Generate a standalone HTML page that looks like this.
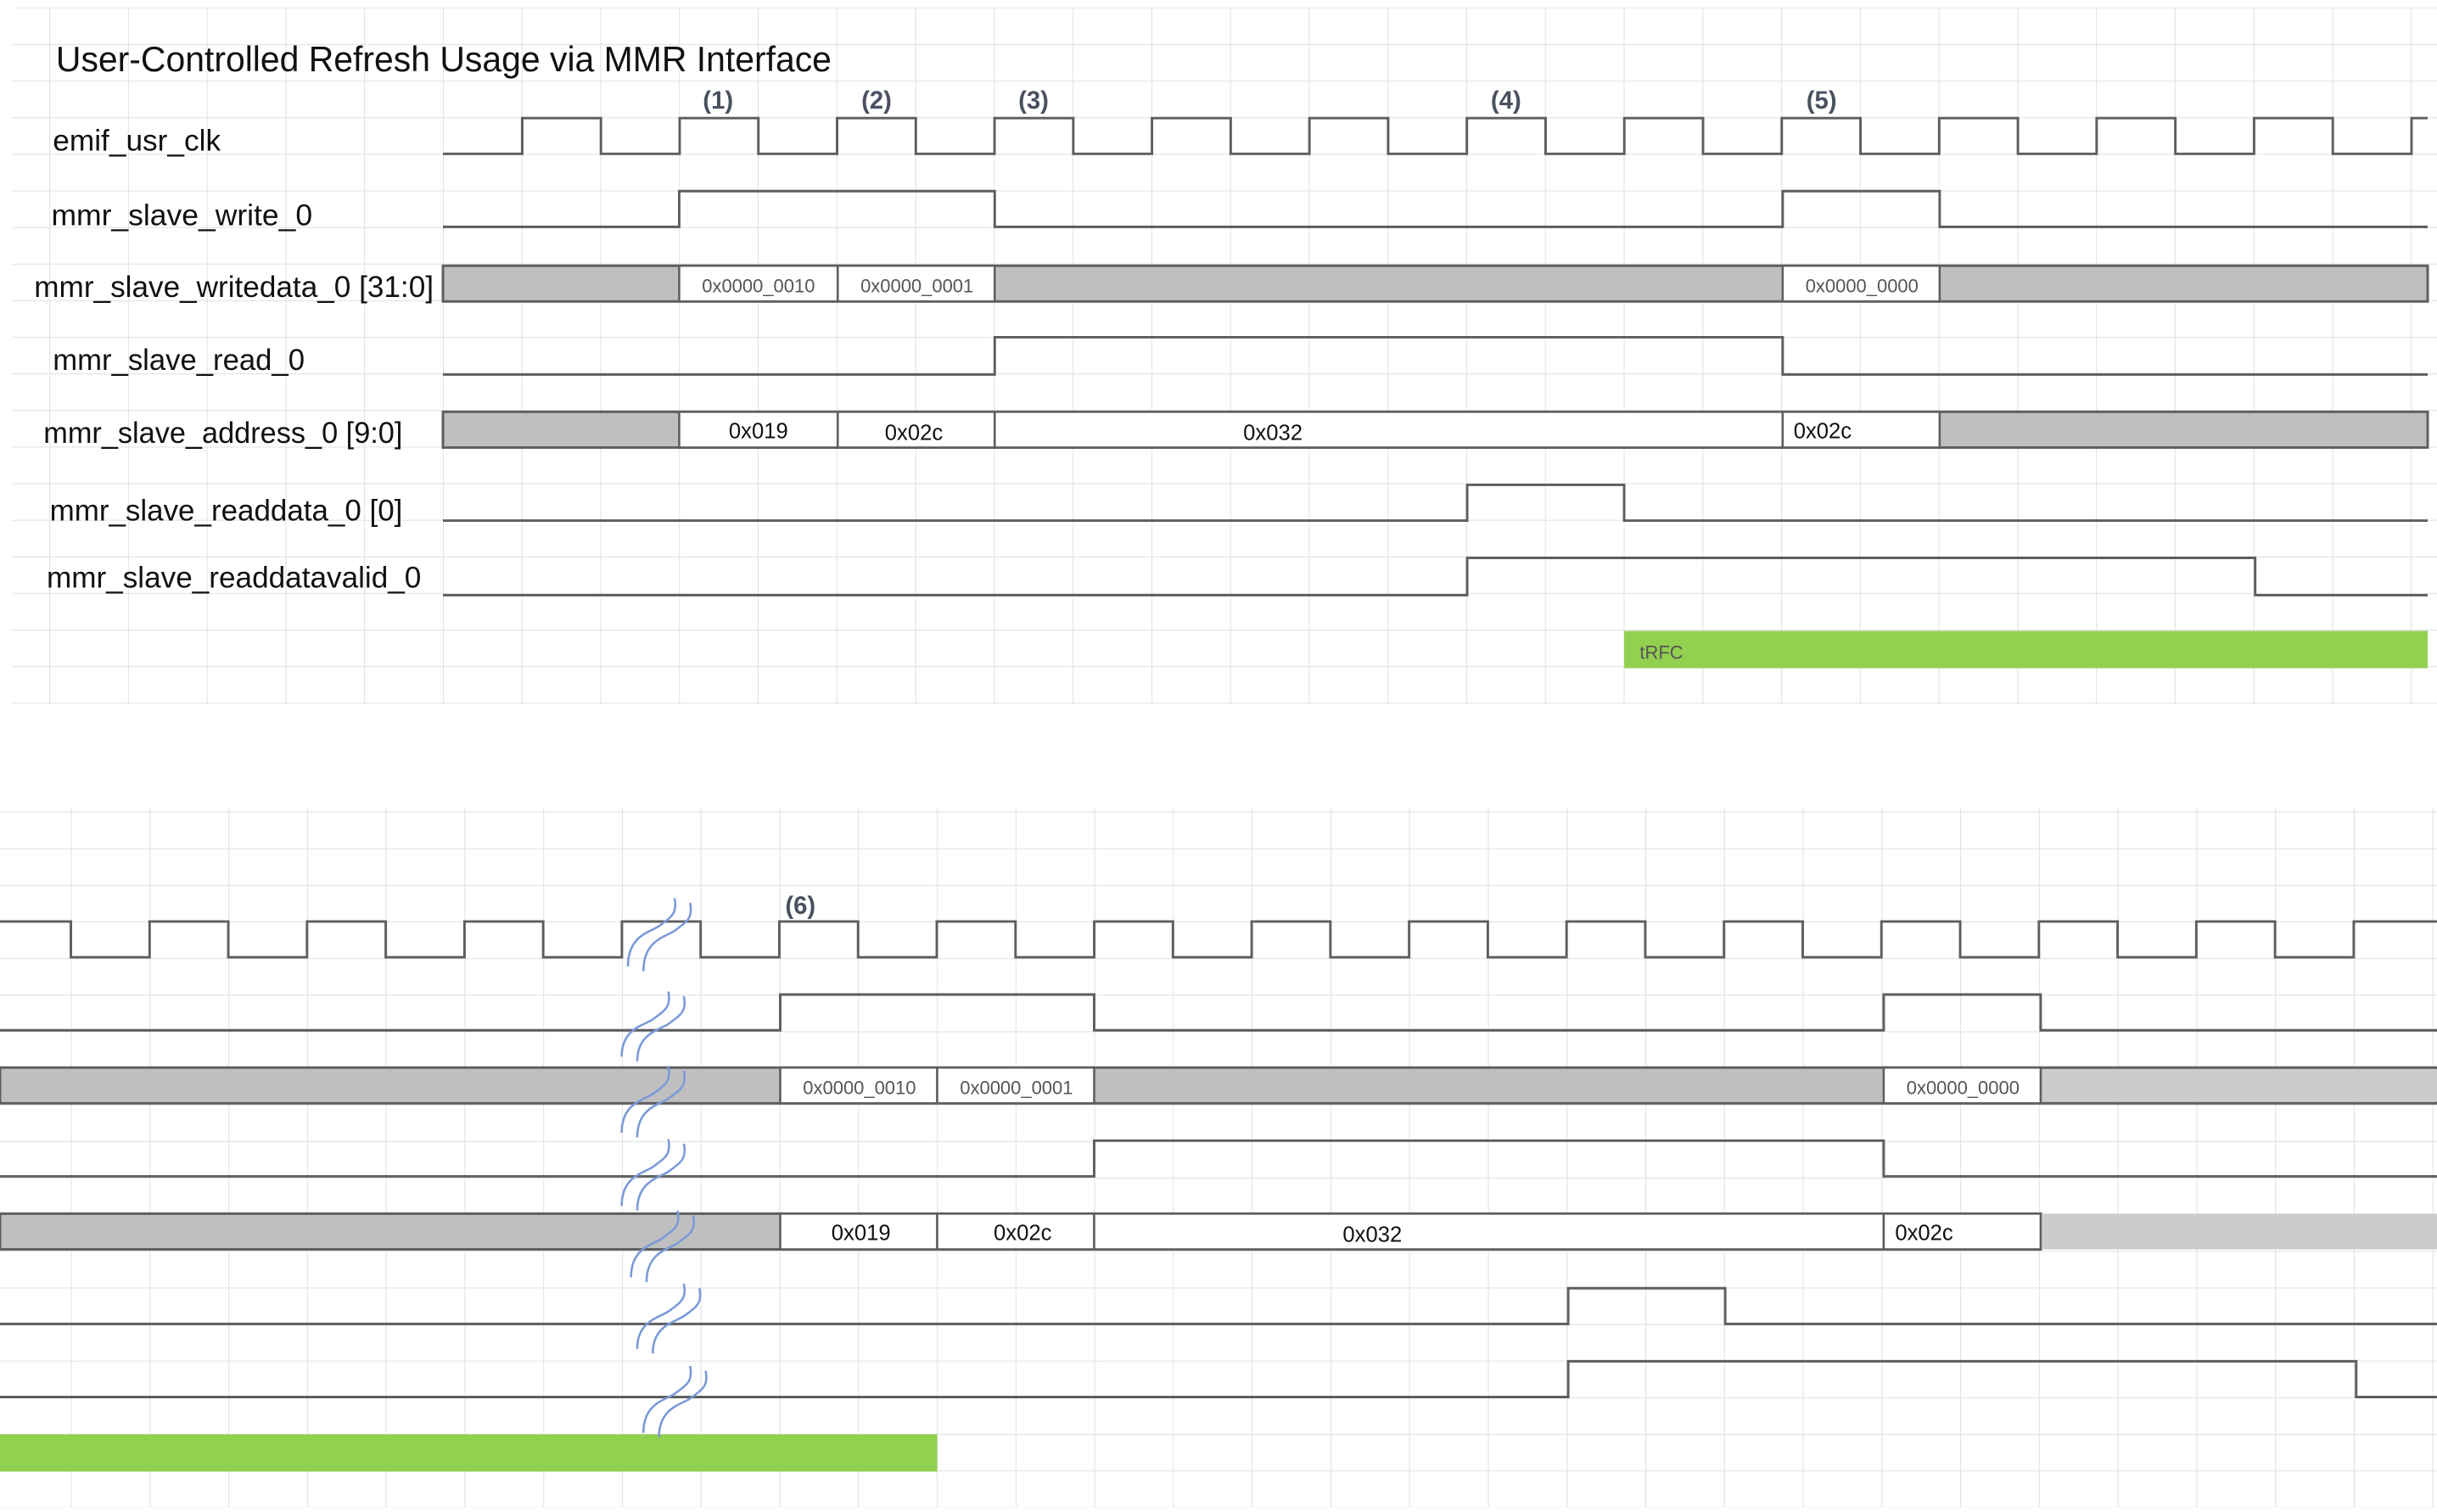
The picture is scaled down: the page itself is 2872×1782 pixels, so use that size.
<!DOCTYPE html>
<html><head><meta charset="utf-8"><style>
html,body{margin:0;padding:0;background:#fff;}
svg{display:block;}
.lbl{font-family:"Liberation Sans",sans-serif;font-size:19px;fill:#111;}
.num{font-family:"Liberation Sans",sans-serif;font-size:16px;fill:#4a5060;font-weight:bold;}
.sig{fill:none;stroke:#5e5e5e;stroke-width:1.6;}
.bus{fill:#bfbfbf;stroke:#5e5e5e;stroke-width:1.6;}
.wh{fill:#fff;stroke:#5e5e5e;stroke-width:1.4;}
.d{font-family:"Liberation Sans",sans-serif;font-size:12px;fill:#555;}
.a{font-family:"Liberation Sans",sans-serif;font-size:14px;fill:#111;}
.sq{fill:none;stroke:#7a9ad8;stroke-width:1.4;}
</style></head><body>
<svg width="2872" height="1782" viewBox="0 0 1568 973" preserveAspectRatio="none" xmlns="http://www.w3.org/2000/svg">
<defs>
<pattern id="g1" x="31.7" y="4.8" width="50.65" height="23.55" patternUnits="userSpaceOnUse">
<path d="M0,0 V23.55 M0,0 H50.65" stroke="#dfe3e7" stroke-width="1.2" fill="none"/></pattern>
<pattern id="g2" x="45.6" y="4.25" width="50.65" height="23.55" patternUnits="userSpaceOnUse">
<path d="M0,0 V23.55 M0,0 H50.65" stroke="#dfe3e7" stroke-width="1.2" fill="none"/></pattern>
</defs>
<rect width="1568" height="973" fill="#fff"/>
<rect x="8" y="5" width="1560" height="448" fill="url(#g1)"/>
<rect x="0" y="520" width="1568" height="450" fill="url(#g2)"/>

<!-- TOP -->
<text x="36" y="46" class="lbl" style="font-size:23px" textLength="499" lengthAdjust="spacingAndGlyphs">User-Controlled Refresh Usage via MMR Interface</text>
<text x="34" y="97" class="lbl" textLength="108" lengthAdjust="spacingAndGlyphs">emif_usr_clk</text>
<text x="33" y="145" class="lbl" textLength="168" lengthAdjust="spacingAndGlyphs">mmr_slave_write_0</text>
<text x="22" y="191" class="lbl" textLength="257" lengthAdjust="spacingAndGlyphs">mmr_slave_writedata_0 [31:0]</text>
<text x="34" y="238" class="lbl" textLength="162" lengthAdjust="spacingAndGlyphs">mmr_slave_read_0</text>
<text x="28" y="285" class="lbl" textLength="231" lengthAdjust="spacingAndGlyphs">mmr_slave_address_0 [9:0]</text>
<text x="32" y="335" class="lbl" textLength="227" lengthAdjust="spacingAndGlyphs">mmr_slave_readdata_0 [0]</text>
<text x="30" y="378" class="lbl" textLength="241" lengthAdjust="spacingAndGlyphs">mmr_slave_readdatavalid_0</text>

<text x="462" y="70" class="num" text-anchor="middle">(1)</text>
<text x="564" y="70" class="num" text-anchor="middle">(2)</text>
<text x="665" y="70" class="num" text-anchor="middle">(3)</text>
<text x="969" y="70" class="num" text-anchor="middle">(4)</text>
<text x="1172" y="70" class="num" text-anchor="middle">(5)</text>

<path class="sig" d="M285,99 H336 V76 h50.65 V99 h50.65 V76 h50.65 V99 h50.65 V76 h50.65 V99 h50.65 V76 h50.65 V99 h50.65 V76 h50.65 V99 h50.65 V76 h50.65 V99 h50.65 V76 h50.65 V99 h50.65 V76 h50.65 V99 h50.65 V76 h50.65 V99 h50.65 V76 h50.65 V99 h50.65 V76 h50.65 V99 h50.65 V76 h50.65 V99 h50.65 V76 H1562"/>
<path class="sig" d="M285,146 H437 V123 H640 V146 H1147 V123 H1248 V146 H1562"/>
<rect class="bus" x="285" y="171" width="1277" height="23"/>
<rect class="wh" x="437" y="171" width="102" height="23"/>
<rect class="wh" x="539" y="171" width="101" height="23"/>
<rect class="wh" x="1147" y="171" width="101" height="23"/>
<text x="488" y="188" class="d" text-anchor="middle">0x0000_0010</text>
<text x="590" y="188" class="d" text-anchor="middle">0x0000_0001</text>
<text x="1198" y="188" class="d" text-anchor="middle">0x0000_0000</text>
<path class="sig" d="M285,241 H640 V217 H1147 V241 H1562"/>
<rect class="bus" x="285" y="265" width="1277" height="23"/>
<rect class="wh" x="437" y="265" width="102" height="23"/>
<rect class="wh" x="539" y="265" width="101" height="23"/>
<rect class="wh" x="640" y="265" width="507" height="23"/>
<rect class="wh" x="1147" y="265" width="101" height="23"/>
<text x="488" y="282" class="a" text-anchor="middle">0x019</text>
<text x="588" y="283" class="a" text-anchor="middle">0x02c</text>
<text x="819" y="283" class="a" text-anchor="middle">0x032</text>
<text x="1154" y="282" class="a">0x02c</text>
<path class="sig" d="M285,335 H944 V312 H1045 V335 H1562"/>
<path class="sig" d="M285,383 H944 V359 H1451 V383 H1562"/>
<rect x="1045" y="406" width="517" height="24" fill="#92d050"/>
<text x="1055" y="424" class="d" fill="#5a6a50">tRFC</text>

<!-- BOTTOM -->
<text x="515" y="588" class="num" text-anchor="middle">(6)</text>
<path class="sig" d="M0,593 H45.6 V616 h50.65 V593 h50.65 V616 h50.65 V593 h50.65 V616 h50.65 V593 h50.65 V616 h50.65 V593 h50.65 V616 h50.65 V593 h50.65 V616 h50.65 V593 h50.65 V616 h50.65 V593 h50.65 V616 h50.65 V593 h50.65 V616 h50.65 V593 h50.65 V616 h50.65 V593 h50.65 V616 h50.65 V593 h50.65 V616 h50.65 V593 h50.65 V616 h50.65 V593 h50.65 V616 h50.65 V593 h50.65 V616 h50.65 V593 H1568"/>
<path class="sig" d="M0,663 H502 V640 H704 V663 H1212 V640 H1313 V663 H1568"/>
<rect class="bus" x="0" y="687" width="1568" height="23"/>
<rect x="1314" y="688" width="254" height="21" fill="#cccccc"/>
<rect class="wh" x="502" y="687" width="101" height="23"/>
<rect class="wh" x="603" y="687" width="101" height="23"/>
<rect class="wh" x="1212" y="687" width="101" height="23"/>
<text x="553" y="704" class="d" text-anchor="middle">0x0000_0010</text>
<text x="654" y="704" class="d" text-anchor="middle">0x0000_0001</text>
<text x="1263" y="704" class="d" text-anchor="middle">0x0000_0000</text>
<path class="sig" d="M0,757 H704 V734 H1212 V757 H1568"/>
<rect class="bus" x="0" y="781" width="1313" height="23"/>
<rect x="1313" y="781" width="255" height="23" fill="#cccccc"/>
<rect class="wh" x="502" y="781" width="101" height="23"/>
<rect class="wh" x="603" y="781" width="101" height="23"/>
<rect class="wh" x="704" y="781" width="508" height="23"/>
<rect class="wh" x="1212" y="781" width="101" height="23"/>
<text x="554" y="798" class="a" text-anchor="middle">0x019</text>
<text x="658" y="798" class="a" text-anchor="middle">0x02c</text>
<text x="883" y="799" class="a" text-anchor="middle">0x032</text>
<text x="1238" y="798" class="a" text-anchor="middle">0x02c</text>
<path class="sig" d="M0,852 H1009 V829 H1110 V852 H1568"/>
<path class="sig" d="M0,899 H1009 V876 H1516 V899 H1568"/>
<rect x="0" y="923" width="603" height="24" fill="#92d050"/>

<!-- break squiggles -->
<g class="sq">
<path d="M404,622 C404,602 418,600 424,596 C432,590 436,588 434,578 M414,625 C414,605 428,603 434,599 C442,593 446,591 444,581"/>
<path d="M400,680 C400,662 414,660 420,656 C428,650 432,648 430,638 M410,683 C410,665 424,663 430,659 C438,653 442,651 440,641"/>
<path d="M400,729 C400,710 414,708 420,704 C428,698 432,696 430,686 M410,732 C410,713 424,711 430,707 C438,701 442,699 440,689"/>
<path d="M400,776 C400,757 414,755 420,751 C428,745 432,743 430,733 M410,779 C410,760 424,758 430,754 C438,748 442,746 440,736"/>
<path d="M406,822 C406,803 420,801 426,797 C434,791 438,789 436,779 M416,825 C416,806 430,804 436,800 C444,794 448,792 446,782"/>
<path d="M410,868 C410,850 424,848 430,844 C438,838 442,836 440,826 M420,871 C420,853 434,851 440,847 C448,841 452,839 450,829"/>
<path d="M414,922 C414,903 428,901 434,897 C442,891 446,889 444,879 M424,925 C424,906 438,904 444,900 C452,894 456,892 454,882"/>
</g>
</svg>
</body></html>
